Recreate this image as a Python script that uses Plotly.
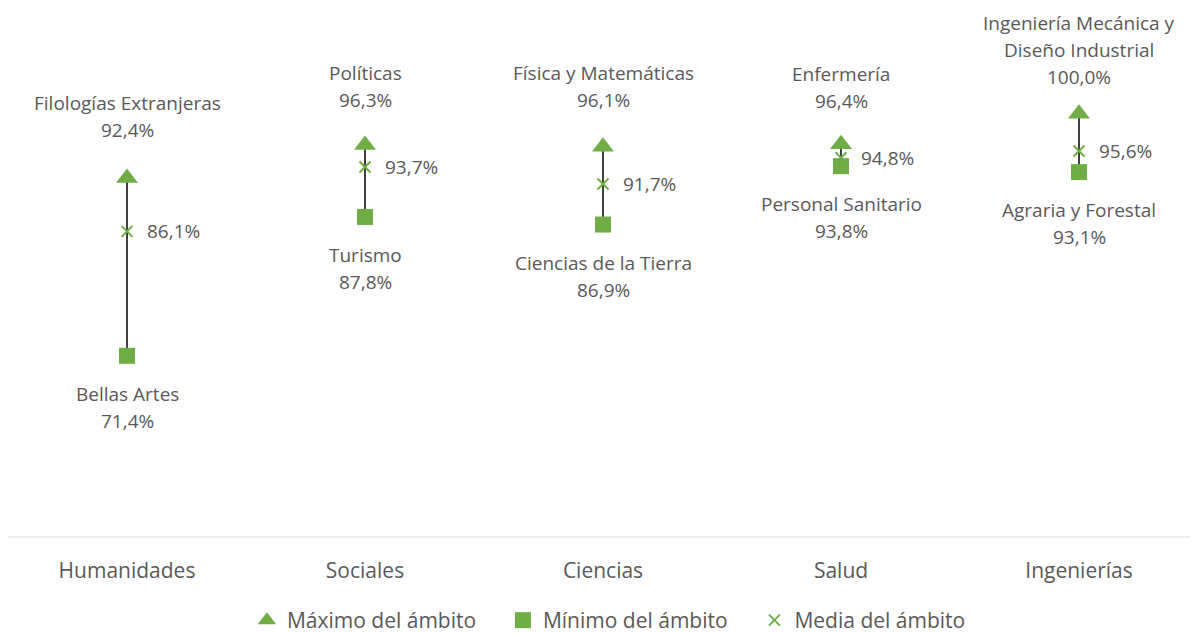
import plotly.graph_objects as go

categorias = ["Humanidades", "Sociales", "Ciencias", "Salud", "Ingenierías"]
maximo = [92.4, 96.3, 96.1, 96.4, 100.0]
minimo = [71.4, 87.8, 86.9, 93.8, 93.1]
media = [86.1, 93.7, 91.7, 94.8, 95.6]
nombre_max = [["Filologías Extranjeras"], ["Políticas"], ["Física y Matemáticas"],
              ["Enfermería"], ["Ingeniería Mecánica y", "Diseño Industrial"]]
nombre_min = ["Bellas Artes", "Turismo", "Ciencias de la Tierra",
              "Personal Sanitario", "Agraria y Forestal"]
series = ["Máximo del ámbito", "Mínimo del ámbito", "Media del ámbito"]

VERDE = "#70AD47"
GRIS = "#595959"
FUENTE = "Open Sans"
TAM = 19
LINEA = 27  # separación entre renglones (px)
# desplazamiento vertical de la etiqueta del máximo (px, renglón del valor)
sep_max = [48, 45, 47, 43, 37]
HUECO = "\u00a0" * 4


def pct(v):
    return f"{v:.1f}".replace(".", ",") + "%"


fig = go.Figure()

# Línea entre mínimo y máximo
lx, ly = [], []
for c, lo, hi in zip(categorias, minimo, maximo):
    lx += [c, c, None]
    ly += [lo, hi, None]
fig.add_trace(go.Scatter(x=lx, y=ly, mode="lines", line=dict(color="#404040", width=2),
                         showlegend=False, hoverinfo="skip"))

fig.add_trace(go.Scatter(x=categorias, y=maximo, mode="markers", name=series[0] + HUECO,
                         marker=dict(symbol="triangle-up", size=19, color=VERDE)))
fig.add_trace(go.Scatter(x=categorias, y=minimo, mode="markers", name=series[1] + HUECO,
                         marker=dict(symbol="square", size=16, color=VERDE)))
fig.add_trace(go.Scatter(x=categorias, y=media, mode="markers", name=series[2],
                         marker=dict(symbol="x-thin", size=11, color=VERDE,
                                     line=dict(color=VERDE, width=2))))

fuente = dict(size=TAM, color=GRIS, family=FUENTE)


def etiqueta(c, v, texto, dy):
    fig.add_annotation(x=c, y=v, text=texto, showarrow=False, yanchor="middle",
                       yshift=dy, font=fuente)


for c, v, nombres, s in zip(categorias, maximo, nombre_max, sep_max):
    renglones = nombres + [pct(v)]
    for i, t in enumerate(reversed(renglones)):
        etiqueta(c, v, t, s + i * LINEA)
for c, v, n in zip(categorias, minimo, nombre_min):
    etiqueta(c, v, n, -38)
    etiqueta(c, v, pct(v), -38 - LINEA)
for c, v in zip(categorias, media):
    fig.add_annotation(x=c, y=v, text=pct(v), showarrow=False,
                       xanchor="left", xshift=18, font=fuente)

# línea del eje horizontal (hasta el borde derecho)
fig.add_shape(type="line", xref="paper", yref="paper", x0=0, x1=1.007, y0=0, y1=0,
              line=dict(color="#D9D9D9", width=1))

fig.update_layout(
    width=1198, height=633,
    margin=dict(l=0, r=8, t=21, b=99),
    plot_bgcolor="white", paper_bgcolor="white",
    font=dict(family=FUENTE, color=GRIS, size=TAM),
    legend=dict(orientation="h", x=0.505, xanchor="center", y=-0.165, yanchor="middle",
                font=dict(size=21, color=GRIS, family=FUENTE), itemwidth=30, tracegroupgap=0),
)
fig.update_xaxes(range=[-0.5, 4.5], showgrid=False, showline=False,
                 ticks="", tickfont=dict(size=21, color=GRIS, family=FUENTE),
                 ticklabelstandoff=19, zeroline=False)
fig.update_yaxes(range=[50, 110], visible=False, showgrid=False, zeroline=False)

fig.write_html("out.html")
